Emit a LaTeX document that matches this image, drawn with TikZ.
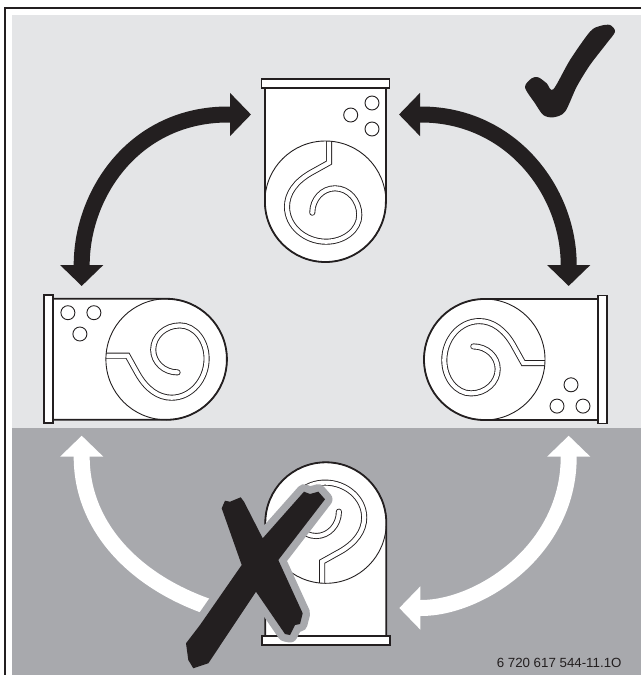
\documentclass[tikz,border=0pt]{standalone}
\usepackage{fontspec}
\setmainfont{Liberation Sans}
\usetikzlibrary{arrows.meta}
\definecolor{panellight}{HTML}{E4E5E7}
\definecolor{paneldark}{HTML}{A8A9AD}
\definecolor{inkblack}{HTML}{231F20}
\tikzset{
  bigflow/.style={line width=16pt, -{Triangle[length=21pt, width=42pt]}},
  bothflow/.style={line width=16pt, {Triangle[length=21pt, width=42pt]}-{Triangle[length=21pt, width=42pt]}},
  shell/.style={draw=inkblack, fill=white, line width=1.8pt},
  thinline/.style={draw=inkblack, line width=0.9pt},
  coil/.style={draw=inkblack, line width=0.9pt, double=white, double distance=4.2pt, line cap=round},
  device/.pic={
    \path[shell] (-60.5,-113.5) -- (-60.5,0) .. controls (-60.5,33.4) and (-33.4,60.5) .. (0,60.5) .. controls (33.4,60.5) and (60.5,33.4) .. (60.5,0) -- (60.5,-113.5);
    \path[shell] (-64,-122.5) rectangle (64,-113.5);
    \begin{scope}
      \clip (0,0) circle[radius=60.5];
      \draw[coil] (3.6,-62) -- (3.6,-38.8) -- (-14,-29) .. controls (-30,-20) and (-38.4,-8) .. (-38.4,5.2) .. controls (-38.4,25) and (-20,40.2) .. (0.6,40.2) .. controls (19,40.2) and (33.9,28.2) .. (33.9,13.5) .. controls (33.9,-1.2) and (23,-13.2) .. (9.6,-13.2) .. controls (-3,-13.2) and (-13.1,-2.3) .. (-13.1,11.2);
    \end{scope}
    \draw[thinline] (0,0) circle[radius=60.5];
    \foreach \hx/\hy in {46.6/-98.5, 25.3/-86.5, 46.6/-72.5}
      \draw[thinline] (\hx,\hy) circle[radius=7];
  },
}
\begin{document}
\begin{tikzpicture}[x=1pt, y=-1pt]
  \useasboundingbox (0,0) rectangle (641,675);
  \fill[white] (0,0) rectangle (641,675);
  \fill[panellight] (12,15) rectangle (641,428);
  \fill[paneldark] (12,428) rectangle (641,675);
  \draw[inkblack, line width=2.4pt] (641,7.7) -- (5.2,7.7) -- (5.2,675);
  % arrows
  \coordinate (topl) at (251,114.5);
  \coordinate (topr) at (399,114.5);
  \coordinate (midl) at (81.7,286);
  \coordinate (midr) at (568.7,286);
  \coordinate (lowl) at (81.7,435.7);
  \coordinate (lowr) at (568.7,435.7);
  \coordinate (botr) at (399.3,608);
  \coordinate (botx) at (225,612);
  \draw[bothflow, inkblack] (topl) -- (228,114.5) .. controls (135,114.5) and (81.7,193) .. (81.7,265) -- (midl);
  \draw[bothflow, inkblack] (topr) -- (421,114.5) .. controls (510,114.5) and (568.7,190) .. (568.7,265) -- (midr);
  \draw[bigflow, white] (botx) .. controls (140,588) and (81.7,530) .. (81.7,457) -- (lowl);
  \draw[bothflow, white] (botr) -- (421,608) .. controls (480,608) and (568.7,550) .. (568.7,457) -- (lowr);
  % burners
  \pic at (325.4,201.5) {device};
  \pic[rotate=90] at (166.4,359.3) {device};
  \pic[rotate=-90] at (484.5,359.5) {device};
  \pic[rotate=180] at (325.8,522.8) {device};
  % marks
  \fill[inkblack] plot[smooth cycle, tension=0.5] coordinates {(525,87.3) (531.7,78.3) (538.3,77.3) (546.7,83.3) (553.3,89.3) (570,60) (590,31.7) (600,26) (610,25) (615,31.7) (606.7,43.3) (590,65) (576.7,86.7) (565,111.7) (553.3,117.3) (543.3,115) (535,103.3)};
  \fill[inkblack, preaction={draw=paneldark, line width=15pt, line join=round}] (221.7,508.3) -- (225,500.7) -- (230,501.7) -- (240.7,497.3) -- (244,501.7) -- (262.7,538.3) -- (304,491.7) -- (310,494) -- (318.3,491.7) -- (325,499.3) -- (278.3,560) -- (302.7,613.3) -- (300,624) -- (295,625) -- (290,635) -- (285,634) -- (256,591.7) -- (208.3,663.3) -- (206,664) -- (193.3,668.3) -- (188.3,660) -- (186,643.3) -- (200,625) -- (241.7,565) -- cycle;
  \node[anchor=base east, inner sep=0pt, font=\fontsize{13.3}{15}\selectfont, text=inkblack] (code) at (621.7,667) {6 720 617 544-11.1O};
\end{tikzpicture}
\end{document}
